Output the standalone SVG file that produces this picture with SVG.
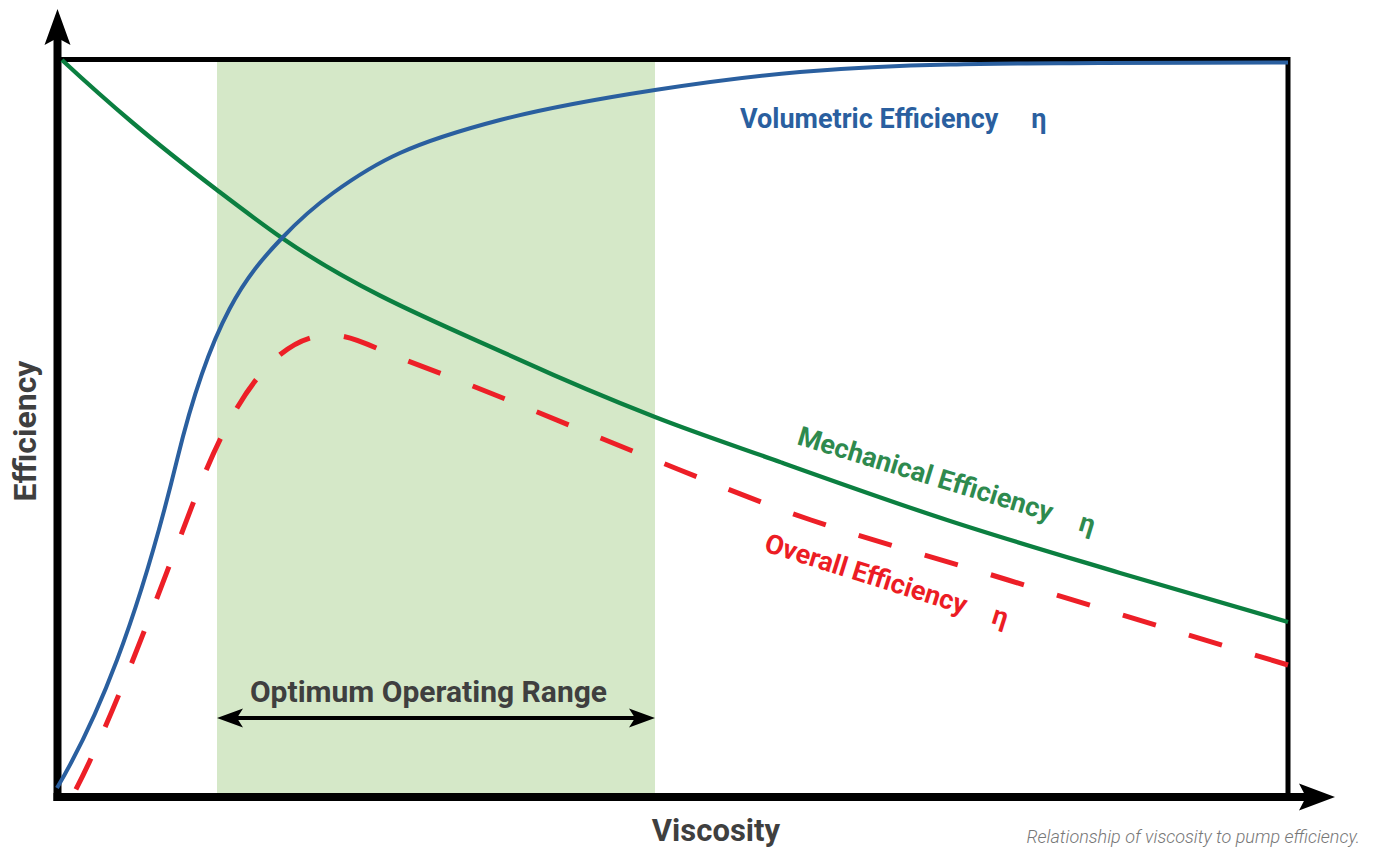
<svg xmlns="http://www.w3.org/2000/svg" width="1373" height="848" viewBox="0 0 1373 848">
<style>
.lbl{font-family:Roboto,"Liberation Sans",sans-serif;font-weight:700;}
.ax{fill:#3f3f3f;}
.curve{fill:none;stroke-linecap:butt;stroke-linejoin:round;}
</style>
<rect width="1373" height="848" fill="#ffffff"/>
<g id="optimum-band"><rect x="217" y="62" width="438" height="731" fill="#d5e8c8"/></g>
<g id="frame"><path d="M58,59.5 H1288 V797" fill="none" stroke="#000" stroke-width="5"/></g>
<g id="axes">
<line x1="57.5" y1="801" x2="57.5" y2="36" stroke="#000" stroke-width="8"/>
<line x1="53.5" y1="797" x2="1308" y2="797" stroke="#000" stroke-width="8"/>
<polygon points="57.5,9 70.5,45 57.5,38 44.5,45" fill="#000"/>
<polygon points="1335,797 1299,783.5 1306,797 1299,810.5" fill="#000"/>
</g>
<g id="connectors">
<path id="mechanical-curve" class="curve" stroke="#0b7f40" stroke-width="4.3" d="M62,60 C85.7,82 109.3,103 133,123 C161,146.7 189,168.6 217,190 C238.7,206.5 260.3,223 282,238 C361.3,292.7 440.7,323.9 520,360 C565,380.5 610,399.4 655,417 C696.7,433.3 738.3,447.1 780,462 C835.7,481.9 891.3,501.8 947,520 C1004.7,538.9 1062.3,555.7 1120,573 C1176,589.8 1232,606 1288,622"/>
<path id="volumetric-curve" class="curve" stroke="#2a5f9f" stroke-width="4" d="M57,788 C97,720 137,624 177,460 C212,316.5 247,274.75 282,238 C299,220.1 316,205.2 333,193 C355.33,176.9 377.67,163 400,153 C433.33,138 466.67,128.7 500,120 C551.67,106.6 603.33,98 655,90 C703.33,82.5 751.67,76.1 800,72 C850,67.75 900,65.5 950,64.5 C1000,63 1050,63.35 1100,63 C1162.67,63 1225.33,62.5 1288,62.5"/>
<path id="overall-curve" class="curve" stroke="#ed1f27" stroke-width="5" stroke-dasharray="34.5 34.5" d="M1288,665 C1194.67,637 1101.33,608.9 1008,580 C942.33,559.6 876.67,542.3 811,520 C759,502.3 707,480.8 655,460 C570,426 485,389.45 400,358 C376.67,349.4 353.33,335 330,335 C285.67,335 241.33,377.7 197,493 C155.33,601.3 113.67,717.8 72,797"/>
<g id="range-arrow">
<line x1="236" y1="718" x2="636" y2="718" stroke="#000" stroke-width="4"/>
<polygon points="217,718 243,708.5 237,718 243,727.5" fill="#000"/>
<polygon points="655,718 629,708.5 635,718 629,727.5" fill="#000"/>
</g>
</g>
<g id="label-volumetric"><text class="lbl" x="740" y="128" font-size="27" fill="#2a5f9f">Volumetric Efficiency<tspan dx="33">η</tspan></text></g>
<g id="label-mechanical"><text class="lbl" x="796" y="444" font-size="27" fill="#2e8a4e" transform="rotate(17 796 444)">Mechanical Efficiency<tspan dx="29">η</tspan></text></g>
<g id="label-overall"><text class="lbl" x="763" y="551" font-size="27" fill="#ec1c24" transform="rotate(17.5 763 551)">Overall Efficiency<tspan dx="28">η</tspan></text></g>
<g id="label-range"><text class="lbl ax" x="428.5" y="702" font-size="30" text-anchor="middle">Optimum Operating Range</text></g>
<g id="label-y"><text class="lbl ax" x="0" y="0" font-size="32" text-anchor="middle" transform="translate(36 431) rotate(-90)">Efficiency</text></g>
<g id="label-x"><text class="lbl ax" x="716" y="841" font-size="31" text-anchor="middle">Viscosity</text></g>
<g id="caption"><text x="1360" y="843" font-family="Roboto,'Liberation Sans',sans-serif" font-style="italic" font-weight="300" font-size="18" fill="#777777" text-anchor="end">Relationship of viscosity to pump efficiency.</text></g>
</svg>
